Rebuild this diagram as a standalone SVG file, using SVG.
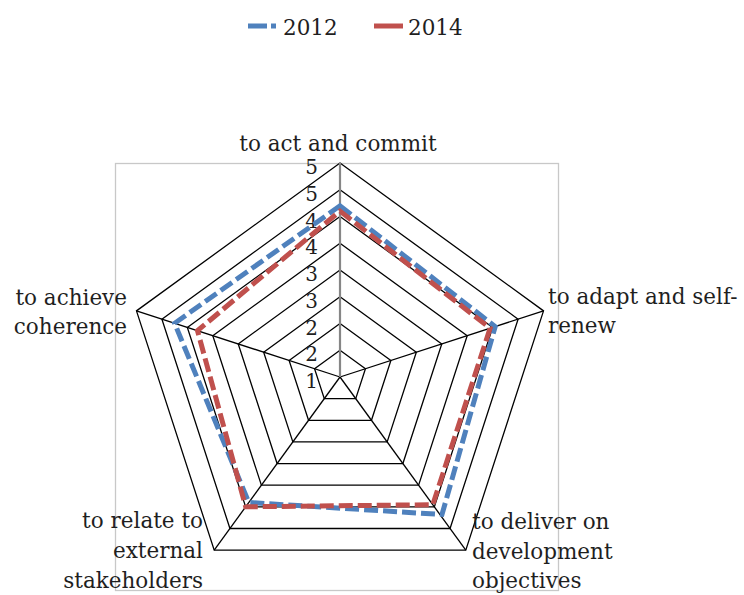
<svg xmlns="http://www.w3.org/2000/svg" width="744" height="595" viewBox="0 0 744 595">
<style>
text{font-family:"DejaVu Serif","Liberation Serif",serif;fill:#1f1f1f;}
.lbl{font-size:21.5px;}
.num{font-size:20px;text-anchor:end;}
.ring{fill:none;stroke:#000;stroke-width:1.3;}
.spoke{stroke:#000;stroke-width:1.3;}
.s2012{fill:none;stroke:#4F81BD;stroke-width:5;stroke-dasharray:14 5;}
.s2014{fill:none;stroke:#C0504D;stroke-width:5;stroke-dasharray:14 5;}
</style>
<rect width="744" height="595" fill="#fff"/>
<g id="legend">
<line x1="248" y1="26" x2="276" y2="26" stroke="#4F81BD" stroke-width="5" stroke-dasharray="19 4"/>
<text class="lbl" x="283" y="35">2012</text>
<line x1="374" y1="26" x2="403" y2="26" stroke="#C0504D" stroke-width="5"/>
<text class="lbl" x="408" y="35">2014</text>
</g>
<rect id="plot-area" x="115.5" y="163.5" width="443" height="427" fill="none" stroke="#c8c8c8" stroke-width="1.3"/>
<g id="grid">
<polygon class="ring" points="340,350.25 365.44,368.73 355.72,398.64 324.28,398.64 314.56,368.73"/>
<polygon class="ring" points="340,323.5 390.88,360.47 371.45,420.28 308.55,420.28 289.12,360.47"/>
<polygon class="ring" points="340,296.75 416.32,352.2 387.17,441.92 292.83,441.92 263.68,352.2"/>
<polygon class="ring" points="340,270 441.76,343.94 402.89,463.57 277.11,463.57 238.24,343.94"/>
<polygon class="ring" points="340,243.25 467.2,335.67 418.62,485.21 261.38,485.21 212.8,335.67"/>
<polygon class="ring" points="340,216.5 492.65,327.4 434.34,506.85 245.66,506.85 187.35,327.4"/>
<polygon class="ring" points="340,189.75 518.09,319.14 450.06,528.49 229.94,528.49 161.91,319.14"/>
<polygon class="ring" points="340,163 543.53,310.87 465.79,550.13 214.21,550.13 136.47,310.87"/>
<line class="spoke" x1="340" y1="377" x2="543.53" y2="310.87"/>
<line class="spoke" x1="340" y1="377" x2="465.79" y2="550.13"/>
<line class="spoke" x1="340" y1="377" x2="214.21" y2="550.13"/>
<line class="spoke" x1="340" y1="377" x2="136.47" y2="310.87"/>
<line x1="340" y1="377" x2="340" y2="163" stroke="#868686" stroke-width="2.2"/>
</g>
<g id="axis-values">
<text class="num" x="318" y="388">1</text>
<text class="num" x="318" y="361.25">2</text>
<text class="num" x="318" y="334.5">2</text>
<text class="num" x="318" y="307.75">3</text>
<text class="num" x="318" y="281">3</text>
<text class="num" x="318" y="254.25">4</text>
<text class="num" x="318" y="227.5">4</text>
<text class="num" x="318" y="200.75">5</text>
<text class="num" x="318" y="174">5</text>
</g>
<g id="connectors">
<polygon id="series-2012" class="s2012" points="340,205.8 495.2,326.6 442,514.5 248.8,502.5 174.6,323.3"/>
<polygon id="series-2014" class="s2014" points="340,211.1 490.1,328.2 432.8,504.7 245.7,506.8 197.5,330.7"/>
</g>
<g id="node-act">
<text class="lbl" x="338" y="151" text-anchor="middle">to act and commit</text>
</g>
<g id="node-adapt">
<text class="lbl" x="548" y="304">to adapt and self-</text>
<text class="lbl" x="548" y="333">renew</text>
</g>
<g id="node-deliver">
<text class="lbl" x="472" y="529">to deliver on</text>
<text class="lbl" x="472" y="559">development</text>
<text class="lbl" x="472" y="588">objectives</text>
</g>
<g id="node-relate">
<text class="lbl" x="203" y="528" text-anchor="end">to relate to</text>
<text class="lbl" x="203" y="558" text-anchor="end">external</text>
<text class="lbl" x="203" y="588" text-anchor="end">stakeholders</text>
</g>
<g id="node-cohere">
<text class="lbl" x="127" y="305" text-anchor="end">to achieve</text>
<text class="lbl" x="127" y="334" text-anchor="end">coherence</text>
</g>
</svg>
